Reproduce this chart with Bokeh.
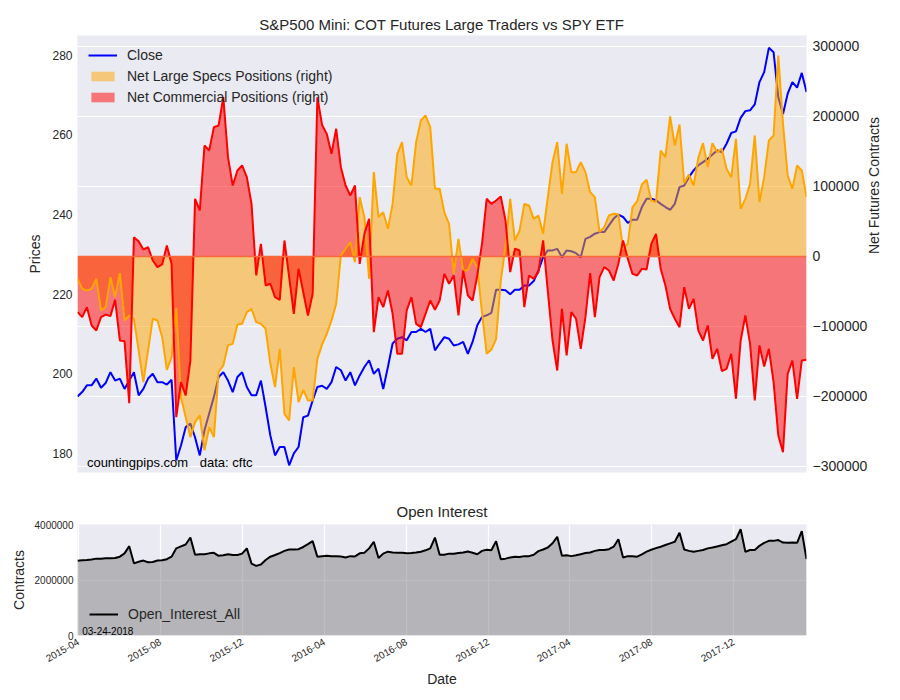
import math
import pandas as pd
from bokeh.plotting import figure
from bokeh.models import (Range1d, LinearAxis, FixedTicker, Legend, LegendItem, Label,
                          CustomJSTickFormatter, DatetimeTickFormatter, Span, ColumnDataSource,
                          NumeralTickFormatter)
from bokeh.layouts import column
from bokeh.embed import file_html
from bokeh.resources import INLINE

# ---------------- data (weekly COT report dates) ----------------
dates = pd.date_range("2015-03-31", periods=156, freq="7D")

close = [
    194.3, 195.4, 197.1, 197.1, 198.8, 196.5, 197.7, 200.4, 198.3, 198.8,
    196.2, 198.3, 200.4, 194.6, 196.2, 198.8, 200.0, 197.9, 197.9, 197.3,
    198.5, 178.2, 182.0, 186.6, 187.5, 184.0, 179.5, 185.8, 190.0, 194.2,
    199.2, 200.4, 198.3, 195.4, 199.2, 200.4, 196.7, 194.6, 194.6, 198.3,
    191.6, 184.5, 179.5, 181.6, 181.6, 177.0, 180.0, 181.6, 189.1, 189.5,
    193.3, 196.7, 197.0, 196.2, 197.9, 201.7, 200.9, 198.3, 200.4, 197.1,
    199.6, 201.7, 203.4, 200.0, 201.3, 196.2, 201.7, 207.6, 208.8, 209.2,
    208.4, 210.5, 210.5, 211.3, 210.5, 211.3, 205.9, 207.6, 209.2, 208.8,
    207.1, 207.4, 208.0, 205.0, 208.0, 212.2, 214.3, 214.7, 215.3, 221.1,
    221.1, 221.0, 220.0, 221.1, 221.1, 222.2, 222.2, 223.3, 226.0, 229.3,
    231.0, 231.0, 231.4, 229.3, 231.0, 230.8, 230.3, 229.3, 233.9, 234.4,
    235.2, 235.6, 235.6, 237.3, 239.0, 240.0, 239.4, 237.9, 238.7, 238.7,
    241.9, 244.0, 244.0, 243.6, 242.7, 241.9, 241.2, 242.7, 246.9, 247.3,
    249.4, 251.1, 252.4, 253.2, 254.0, 255.1, 256.1, 255.7, 257.8, 260.5,
    260.9, 264.3, 266.0, 266.2, 267.7, 273.3, 275.8, 281.9, 280.8, 269.5,
    265.3, 270.4, 273.3, 271.9, 275.6, 270.8,
]

# net positions, thousands of contracts
large_specs_k = [
    -31.9, -46.2, -48.6, -46.2, -31.9, -77.1, -72.4, -29.5, -58.1, -23.8,
    -91.4, -84.3, -89.0, -134.3, -179.5, -134.3, -89.0, -91.4, -115.2, -161.9,
    -143.8, -73.8, -201.0, -229.5, -258.0, -236.7, -227.0, -277.0, -243.8, -258.0,
    -165.0, -155.7, -127.0, -124.8, -97.6, -96.2, -79.5, -74.8, -93.8, -96.2,
    -103.3, -153.3, -186.7, -131.9, -224.8, -234.3, -158.0, -208.0, -190.5, -205.7,
    -205.7, -146.2, -126.0, -110.5, -91.4, -67.6, 1.4, 11.0, 20.5, -8.1,
    84.8, 56.2, -31.9, 120.5, 56.2, 63.3, 39.5, 75.2, 146.7, 163.3,
    113.3, 101.4, 163.3, 194.3, 201.4, 184.8, 96.7, 96.7, 63.0, 46.7,
    -24.8, 25.2, -20.0, -19.5, -3.3, -15.2, -80.0, -139.0, -133.0, -118.0,
    -35.0, 15.0, 82.4, 22.9, 37.1, 75.2, 72.9, 53.8, 58.6, 32.4,
    84.8, 134.8, 163.3, 89.5, 161.0, 120.5, 120.5, 134.8, 120.5, 91.9,
    84.8, 34.8, 41.9, 58.6, 61.0, 60.0, 11.0, 18.1, 70.5, 79.0,
    102.9, 109.5, 80.0, 77.6, 151.4, 141.9, 200.0, 158.6, 188.6, 105.0,
    117.0, 101.4, 141.0, 162.0, 127.6, 162.0, 149.0, 153.8, 125.2, 113.3,
    168.1, 68.1, 82.4, 103.8, 172.9, 77.6, 113.3, 165.7, 172.9, 287.1,
    189.5, 115.7, 96.7, 130.0, 122.9, 84.8,
]

commercial_k = [
    -79.5, -86.7, -72.4, -98.6, -105.7, -86.7, -82.9, -85.2, -61.9, -120.0,
    -121.0, -209.5, 27.6, 21.9, 10.0, 13.3, -5.7, -15.2, -11.4, 15.7,
    -10.5, -229.5, -179.5, -198.6, -148.6, 82.4, 65.7, 158.6, 151.4, 184.8,
    187.1, 227.6, 141.9, 101.4, 122.9, 130.0, 113.3, 75.2, -27.1, 18.1,
    -41.4, -39.0, -58.1, -61.9, 22.9, -29.5, -81.9, -17.6, -51.0, -84.3,
    -53.3, 227.6, 188.0, 175.2, 146.7, 182.4, 127.6, 101.4, 87.1, 101.4,
    -10.5, 32.4, 53.8, -108.1, -58.1, -72.4, -48.6, -81.9, -139.0, -139.0,
    -77.1, -58.1, -96.2, -101.0, -81.9, -62.9, -76.2, -62.9, -24.8, -39.0,
    -27.1, -84.3, -20.0, -55.7, -62.9, -27.1, 18.1, 82.4, 75.2, 80.0,
    85.7, 51.4, -22.4, 11.0, 8.6, -72.4, -27.1, -31.9, -22.4, 22.9,
    -50.0, -120.0, -162.9, -74.8, -141.4, -79.5, -89.0, -131.9, -86.7, -23.8,
    -86.7, -29.5, -15.2, -20.0, -34.3, -10.5, 22.9, -3.3, -24.8, -27.1,
    -17.6, -18.6, 18.1, 32.4, -17.6, -41.4, -74.8, -89.0, -101.0, -43.8,
    -74.8, -60.5, -105.7, -120.0, -98.6, -146.2, -131.9, -163.8, -160.5, -139.0,
    -203.3, -120.0, -84.3, -124.8, -205.7, -127.0, -157.1, -131.9, -179.5, -255.7,
    -279.5, -167.6, -148.6, -203.3, -148.6, -147.6,
]

# open interest, millions of contracts
open_interest_m = [
    2.695, 2.71, 2.72, 2.74, 2.77, 2.77, 2.78, 2.78, 2.79, 2.84,
    2.96, 3.22, 2.60, 2.66, 2.70, 2.64, 2.65, 2.70, 2.71, 2.75,
    2.84, 3.14, 3.21, 3.28, 3.53, 2.91, 2.93, 2.93, 2.96, 2.98,
    2.87, 2.89, 2.93, 2.90, 2.90, 2.95, 3.14, 2.59, 2.51, 2.56,
    2.72, 2.84, 2.90, 2.97, 3.05, 3.10, 3.10, 3.11, 3.19, 3.29,
    3.40, 2.84, 2.86, 2.87, 2.86, 2.86, 2.85, 2.81, 2.86, 2.85,
    2.96, 2.98, 3.14, 3.38, 2.79, 2.95, 3.02, 2.99, 2.98, 2.98,
    2.96, 2.97, 2.99, 3.02, 3.07, 3.14, 3.53, 2.91, 2.91, 2.95,
    2.95, 2.97, 2.99, 3.03, 2.98, 2.93, 3.05, 3.09, 3.07, 3.40,
    2.75, 2.77, 2.81, 2.84, 2.83, 2.86, 2.86, 2.91, 3.04, 3.10,
    3.17, 3.32, 3.56, 2.87, 2.89, 2.86, 2.89, 2.93, 2.97, 2.99,
    3.05, 3.08, 3.08, 3.11, 3.20, 3.47, 2.81, 2.86, 2.86, 2.84,
    2.92, 3.02, 3.09, 3.15, 3.20, 3.26, 3.32, 3.38, 3.70, 3.10,
    3.05, 3.02, 3.05, 3.08, 3.14, 3.17, 3.21, 3.25, 3.29, 3.38,
    3.47, 3.83, 3.02, 3.08, 3.08, 3.23, 3.34, 3.41, 3.41, 3.44,
    3.35, 3.34, 3.35, 3.34, 3.76, 2.75,
]

price_ticks = [180, 200, 220, 240, 260, 280]
contract_ticks = [-300000, -200000, -100000, 0, 100000, 200000, 300000]
oi_ticks = [0, 2000000, 4000000]
date_tick_labels = ["2015-04", "2015-08", "2015-12", "2016-04", "2016-08",
                    "2016-12", "2017-04", "2017-08", "2017-12"]

# ---------------- styling ----------------
FONT = "Liberation Sans"
TXT = "#262626"
BG = "#EAEAF2"

src = ColumnDataSource(dict(
    date=dates,
    close=close,
    specs=[v * 1000 for v in large_specs_k],
    comm=[v * 1000 for v in commercial_k],
    oi=[v * 1e6 for v in open_interest_m],
))

x_range = Range1d(dates[0], dates[-1])


def style_axis(ax, tick_size, label_size=14, label_standoff=6, tick_standoff=6):
    ax.axis_line_color = None
    ax.major_tick_line_color = None
    ax.minor_tick_line_color = None
    ax.major_tick_out = 0
    ax.major_tick_in = 0
    ax.minor_tick_out = 0
    ax.minor_tick_in = 0
    ax.major_label_text_font = FONT
    ax.major_label_text_font_size = tick_size
    ax.major_label_text_color = TXT
    ax.major_label_standoff = tick_standoff
    ax.axis_label_text_font = FONT
    ax.axis_label_text_font_size = "%dpx" % label_size
    ax.axis_label_text_font_style = "normal"
    ax.axis_label_text_color = TXT
    ax.axis_label_standoff = label_standoff


# ---------------- top panel ----------------
p = figure(width=893, height=482, x_axis_type="datetime", x_range=x_range,
           y_range=Range1d(-308600, 315700), y_axis_location="right",
           output_backend="svg", toolbar_location=None,
           min_border_left=77, min_border_right=86, min_border_top=35, min_border_bottom=10,
           background_fill_color=BG, border_fill_color="white", outline_line_color=None,
           title="S&P500 Mini: COT Futures Large Traders vs SPY ETF")
p.title.align = "center"
p.title.text_font = FONT
p.title.text_font_size = "15px"
p.title.text_font_style = "normal"
p.title.text_color = TXT
p.title.standoff = 6

right_axis = p.yaxis[0]
cticker = FixedTicker(ticks=contract_ticks)
right_axis.ticker = cticker
p.ygrid.ticker = cticker
right_axis.formatter = CustomJSTickFormatter(
    code="return tick < 0 ? '\u2212' + Math.abs(tick).toFixed(0) : tick.toFixed(0);")
right_axis.axis_label = "Net Futures Contracts"

p.extra_y_ranges = {"price": Range1d(175.2, 285.0)}
left_axis = LinearAxis(y_range_name="price", axis_label="Prices",
                       ticker=FixedTicker(ticks=price_ticks))
p.add_layout(left_axis, "left")

style_axis(left_axis, "12px", label_standoff=6, tick_standoff=5)
style_axis(right_axis, "14px", label_standoff=4, tick_standoff=6)
try:
    right_axis.axis_label_orientation = math.pi / 2
except Exception:
    pass

p.xaxis.visible = False
p.xgrid.visible = False
p.ygrid.grid_line_color = "white"
p.ygrid.grid_line_width = 1.2

r_close = p.line("date", "close", source=src, y_range_name="price",
                 line_color="blue", line_width=2)
r_sf = p.varea(x="date", y1=0, y2="specs", source=src, fill_color="orange", fill_alpha=0.5)
r_cf = p.varea(x="date", y1=0, y2="comm", source=src, fill_color="red", fill_alpha=0.5)
p.add_layout(Span(location=0, dimension="width", line_color="#F96A3A", line_width=1.3))
p.line("date", "specs", source=src, line_color="orange", line_width=2)
p.line("date", "comm", source=src, line_color="red", line_width=2)

leg = Legend(items=[
    LegendItem(label="Close", renderers=[r_close]),
    LegendItem(label="Net Large Specs Positions (right)", renderers=[r_sf]),
    LegendItem(label="Net Commercial Positions (right)", renderers=[r_cf]),
], location="top_left", margin=2, padding=9, spacing=3,
    glyph_width=29, glyph_height=12, label_height=18, label_standoff=10,
    label_text_font=FONT, label_text_font_size="14px", label_text_color=TXT,
    background_fill_alpha=0, border_line_alpha=0)
p.add_layout(leg)

for txt, idx in (("countingpips.com", 2), ("data: cftc", 26)):
    p.add_layout(Label(x=dates[idx], y=-294000, text=txt, text_baseline="middle",
                       text_font=FONT, text_font_size="13px", text_color="black"))

# ---------------- bottom panel ----------------
p2 = figure(width=893, height=209, x_axis_type="datetime", x_range=x_range,
            y_range=Range1d(0, 4000000),
            output_backend="svg", toolbar_location=None,
            min_border_left=77, min_border_right=86, min_border_top=42, min_border_bottom=56,
            background_fill_color=BG, border_fill_color="white", outline_line_color=None,
            title="Open Interest")
p2.title.align = "center"
p2.title.text_font = FONT
p2.title.text_font_size = "15px"
p2.title.text_font_style = "normal"
p2.title.text_color = TXT
p2.title.standoff = 9

p2.varea(x="date", y1=0, y2="oi", source=src, fill_color="gray", fill_alpha=0.5)
r_oi = p2.line("date", "oi", source=src, line_color="black", line_width=2)

xt = FixedTicker(ticks=[pd.Timestamp(t + "-01").value / 1e6 for t in date_tick_labels])
p2.xaxis.ticker = xt
p2.xgrid.ticker = xt
p2.xaxis.formatter = DatetimeTickFormatter(years="%Y-%m", months="%Y-%m", days="%Y-%m",
                                           hours="%Y-%m", minutes="%Y-%m")
p2.xaxis.major_label_orientation = math.pi / 6
p2.xaxis.axis_label = "Date"
yt = FixedTicker(ticks=oi_ticks)
p2.yaxis.ticker = yt
p2.ygrid.ticker = yt
p2.yaxis.formatter = NumeralTickFormatter(format="0")
p2.yaxis.axis_label = "Contracts"

style_axis(p2.xaxis[0], "10px", label_standoff=2, tick_standoff=5)
style_axis(p2.yaxis[0], "10px", label_standoff=5, tick_standoff=4)
p2.xgrid.grid_line_color = "white"
p2.ygrid.grid_line_color = "white"
p2.xgrid.grid_line_width = 1.2
p2.ygrid.grid_line_width = 1.2

leg2 = Legend(items=[LegendItem(label="Open_Interest_All", renderers=[r_oi])],
              location="bottom_left", margin=2, padding=10,
              glyph_width=29, glyph_height=12, label_height=18, label_standoff=10,
              label_text_font=FONT, label_text_font_size="14px", label_text_color=TXT,
              background_fill_alpha=0, border_line_alpha=0)
p2.add_layout(leg2)
p2.add_layout(Label(x=dates[1], y=170000, text="03-24-2018", text_baseline="middle",
                    text_font=FONT, text_font_size="10px", text_color="black"))

layout = column(p, p2)
open("out.html", "w").write(file_html(layout, INLINE))
